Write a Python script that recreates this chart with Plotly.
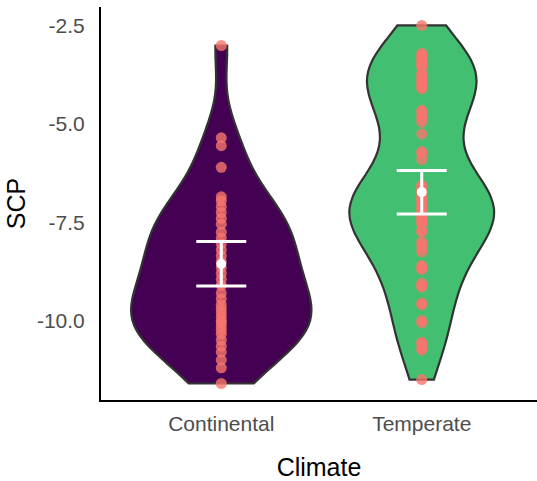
import numpy as np
import plotly.graph_objects as go

categories = ["Continental", "Temperate"]

continental_scp = [-3.0, -5.35, -5.55, -6.1, -6.85, -6.95, -7.1, -7.25, -7.4, -7.55,
                   -7.75, -7.9, -8.05, -8.2, -8.35, -8.5, -8.65, -8.8, -8.95, -9.1,
                   -9.3, -9.45, -9.6, -9.7, -9.8, -9.9, -10.0, -10.05, -10.15, -10.25,
                   -10.35, -10.5, -10.65, -10.8, -11.0, -11.2, -11.6]
temperate_scp = [-2.49,
                 -3.2, -3.25, -3.3, -3.35, -3.4, -3.45, -3.5, -3.55,
                 -3.7, -3.75, -3.8, -3.85, -3.9, -3.95, -4.0, -4.05, -4.1,
                 -4.65, -4.7, -4.8, -4.85, -4.95,
                 -5.25, -5.7, -5.75, -5.9,
                 -6.55, -6.6, -6.65, -6.7, -6.75, -6.8, -6.85, -6.9, -6.95, -7.0,
                 -7.05, -7.1, -7.15, -7.2, -7.25, -7.3, -7.35, -7.4, -7.45, -7.5,
                 -7.55, -7.7, -7.75,
                 -8.0, -8.05, -8.15, -8.25, -8.6, -8.65, -8.7, -9.05, -9.1, -9.15,
                 -9.55, -9.6, -10.0, -10.06, -10.55, -10.6, -10.7, -10.75, -11.5]

mean_scp = [-8.56, -6.73]
ci_low = [-9.12, -7.29]
ci_high = [-7.99, -6.18]

y_tickvals = [-2.5, -5.0, -7.5, -10.0]
y_ticktext = ["-2.5", "-5.0", "-7.5", "-10.0"]

fill_colors = ["#440154", "#43BF71"]
violin_widths = [0.9, 0.72]


def nrd0(x):
    x = np.asarray(x)
    sd = np.std(x, ddof=1)
    iqr = np.subtract(*np.percentile(x, [75, 25]))
    lo = min(sd, iqr / 1.34)
    return 0.9 * lo * len(x) ** -0.2


fig = go.Figure()
series = [continental_scp, temperate_scp]
for cat, vals, col, w in zip(categories, series, fill_colors, violin_widths):
    fig.add_trace(go.Violin(
        x=[cat] * len(vals), y=vals, fillcolor=col, opacity=1,
        line=dict(color="#333333", width=2.2), points=False,
        spanmode="hard", bandwidth=nrd0(vals), width=w, scalemode="width",
        box_visible=False, meanline_visible=False, showlegend=False,
        hoverinfo="y",
    ))

for cat, vals in zip(categories, series):
    fig.add_trace(go.Scatter(
        x=[cat] * len(vals), y=vals, mode="markers",
        marker=dict(color="#F8766D", size=11, opacity=0.8, line=dict(width=0)),
        showlegend=False,
    ))

fig.add_trace(go.Scatter(
    x=categories, y=mean_scp, mode="markers",
    marker=dict(color="white", size=10),
    error_y=dict(type="data", symmetric=False,
                 array=[h - m for h, m in zip(ci_high, mean_scp)],
                 arrayminus=[m - l for m, l in zip(mean_scp, ci_low)],
                 color="white", thickness=3, width=25),
    showlegend=False,
))

fig.update_layout(
    width=537, height=481,
    margin=dict(l=101, r=0, t=7, b=81, autoexpand=False),
    plot_bgcolor="white", paper_bgcolor="white",
    font=dict(family="Liberation Sans, Arial, sans-serif"),
    violingap=0, violinmode="overlay",
)
fig.update_xaxes(
    type="category", range=[-0.6, 1.575], automargin=False,
    showline=True, linecolor="black", linewidth=2, showgrid=False, zeroline=False,
    ticks="", tickfont=dict(size=21, color="#4D4D4D"), ticklabelstandoff=4,
    title=dict(text="Climate", font=dict(size=25, color="black"), standoff=24),
)
fig.update_yaxes(
    range=[-12.02, -2.02], tickvals=y_tickvals, ticktext=y_ticktext, automargin=False,
    showline=True, linecolor="black", linewidth=2, showgrid=False, zeroline=False,
    ticks="", tickfont=dict(size=21, color="#4D4D4D"), ticklabelstandoff=10,
    title=dict(text="SCP", font=dict(size=25, color="black"), standoff=4),
)

fig.write_html(
    "out.html",
    config={"displayModeBar": False},
    post_script="document.body.style.margin='0';document.body.style.overflow='hidden';",
)
